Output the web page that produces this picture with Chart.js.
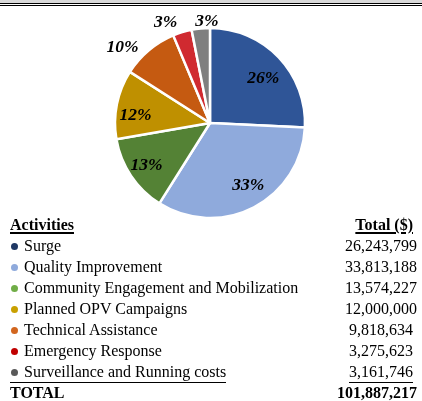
<!DOCTYPE html>
<html><head><meta charset="utf-8">
<script src="https://cdn.jsdelivr.net/npm/chart.js@4.4.1/dist/chart.umd.min.js"></script>
<style>
html,body{margin:0;padding:0;background:#fff;width:422px;height:401px;overflow:hidden;}
#band{position:absolute;left:0;top:0;width:422px;height:3px;background:#d9d9d9;}
#l1{position:absolute;left:0;top:3px;width:422px;height:1.3px;background:#000;}
#l2{position:absolute;left:0;top:5px;width:422px;height:1.3px;background:#000;}
#wrap{position:absolute;left:0;top:0;width:422px;height:218px;}
#tbl{position:absolute;left:0;top:214px;width:422px;font-family:"Liberation Serif","Times New Roman",serif;font-size:16px;color:#000;}
.row{position:relative;height:21px;line-height:21px;white-space:nowrap;}
.name{position:absolute;left:10px;}
.val{position:absolute;right:5px;}
.val.pad{right:9px;}
.hdr{font-weight:bold;text-decoration:underline;text-decoration-thickness:1.5px;text-underline-offset:2px;}
.dot{display:inline-block;width:7px;height:7px;border-radius:50%;margin:0 6.5px 0 0.5px;vertical-align:1px;}
.ul{border-bottom:1px solid #000;}
.bold{font-weight:bold;}
</style>
</head><body>
<div id="band"></div><div id="l1"></div><div id="l2"></div>
<div id="wrap"><canvas id="c"></canvas></div>
<div id="tbl"></div>
<script>
// ---- data ----
const categories = ["Surge","Quality Improvement","Community Engagement and Mobilization","Planned OPV Campaigns","Technical Assistance","Emergency Response","Surveillance and Running costs"];
const totals = [26243799,33813188,13574227,12000000,9818634,3275623,3161746];
const grandTotal = 101887217;
const headerLabels = ["Activities","Total ($)"];
const totalLabel = "TOTAL";

// ---- styles ----
const sliceColors = ["#2F5597","#8FAADC","#548235","#BF9000","#C55A11","#D02A30","#7F7F7F"];
const dotColors = ["#1F3864","#8FAADC","#70AD47","#C9A000","#D2661F","#C00000","#595959"];
const labelPlacement = [{f:0.745,da:2.6},{f:0.755,da:-4.8},{f:0.79,da:1.4},{f:0.79,da:-3.7},{f:1.23,da:-8.4},{f:1.18,da:-6.4},{f:1.085,da:3.9}];
const labelDy = 2;
const numberPad = [false,false,false,false,true,true,true];

const pieLabels = {
  id:'pieLabels',
  afterDatasetsDraw(chart){
    const ctx = chart.ctx;
    const meta = chart.getDatasetMeta(0);
    const data = chart.data.datasets[0].data;
    const sum = data.reduce((a,b)=>a+b,0);
    ctx.save();
    ctx.font = 'italic bold 17.5px "Liberation Serif"';
    ctx.fillStyle = '#000';
    ctx.textAlign = 'center';
    ctx.textBaseline = 'middle';
    meta.data.forEach((arc,i)=>{
      const p = arc.getProps(['x','y','startAngle','endAngle','outerRadius'], true);
      const pl = labelPlacement[i];
      const a = (p.startAngle+p.endAngle)/2 + pl.da*Math.PI/180;
      const r = p.outerRadius*pl.f;
      ctx.fillText(Math.round(data[i]/sum*100)+'%', p.x+Math.cos(a)*r, p.y+Math.sin(a)*r+labelDy);
    });
    ctx.restore();
  }
};

new Chart(document.getElementById('c'), {
  type:'pie',
  data:{labels:categories, datasets:[{data:totals, backgroundColor:sliceColors, borderColor:'#fff', borderWidth:2.5}]},
  options:{
    responsive:true, maintainAspectRatio:false, animation:false,
    radius:95,
    layout:{padding:{left:100,right:102,top:28,bottom:0}},
    plugins:{legend:{display:false}, tooltip:{enabled:false}}
  },
  plugins:[pieLabels]
});

// ---- table ----
const tbl = document.getElementById('tbl');
function addRow(nameHtml, valText, cls, valCls){
  const row = document.createElement('div'); row.className='row';
  const n = document.createElement('span'); n.className='name '+(cls||''); n.innerHTML=nameHtml;
  const v = document.createElement('span'); v.className='val '+(valCls||''); v.textContent=valText;
  row.appendChild(n); row.appendChild(v); tbl.appendChild(row);
}
addRow(headerLabels[0], headerLabels[1], 'hdr', 'hdr pad');
categories.forEach((c,i)=>{
  const last = i===categories.length-1;
  addRow('<span class="dot" style="background:'+dotColors[i]+'"></span>'+c,
         totals[i].toLocaleString('en-US'),
         last?'ul':'', (numberPad[i]?'pad ':'')+(last?'ul':''));
});
addRow(totalLabel, grandTotal.toLocaleString('en-US'), 'bold', 'bold');
</script>
</body></html>
